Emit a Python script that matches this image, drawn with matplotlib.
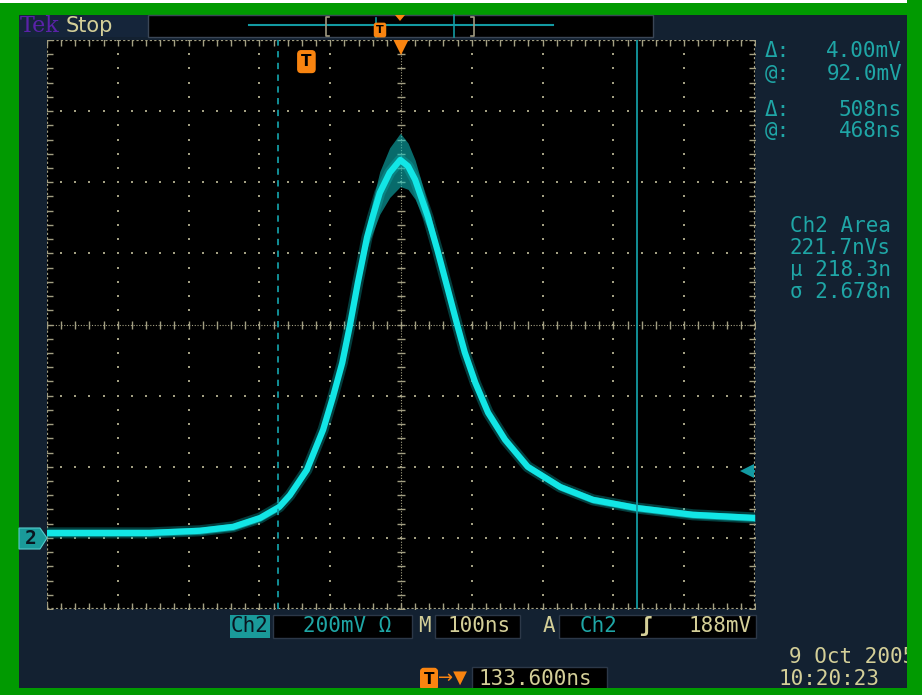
import numpy as np
import matplotlib.pyplot as plt
from matplotlib.patches import Rectangle, Polygon
import matplotlib.transforms as mtrans

# Ch2 trace: time from left edge (ns), volts above ch2 ground (mV)
t_ns = [0, 145, 216, 263, 301, 328, 343, 367, 390, 404, 417, 428, 439, 452, 460, 470,
        484, 499, 510, 520, 538, 552, 566, 579, 590, 605, 623, 647, 679, 725, 771, 833, 912, 1000]
v_mV = [14, 14, 20, 31, 56, 87, 120, 191, 304, 397, 492, 599, 717, 845, 903, 970,
        1027, 1063, 1045, 1007, 903, 805, 700, 602, 522, 436, 352, 276, 200, 143, 107, 84, 65, 56]
# half width of the persistence band (mV)
spread_mV = [10, 10, 10, 10, 10, 10, 10, 10, 12, 14, 16, 18, 22, 30, 45, 60,
             70, 75, 65, 55, 35, 22, 16, 14, 12, 10, 10, 10, 10, 10, 10, 10, 10, 10]

cursor_t = [326, 834]
trig_offset = 133.6
trig_level = 188

readout_lbl = ["Δ:", "@:", "Δ:", "@:"]
readout_val = ["4.00mV", "92.0mV", "508ns", "468ns"]
area_lines = ["Ch2 Area", "221.7nVs", "μ 218.3n", "σ 2.678n"]

green = '#019a01'
navy = '#132131'
teal = '#1fa6a6'
cur_c = '#139aa2'
beige = '#d4cf98'
orange = '#f98410'
dot = '#a39f82'
trace = '#12e6e6'
mono = 'DejaVu Sans Mono'

fig = plt.figure(figsize=(9.22, 6.95), dpi=100, facecolor=green)

# background / chrome in pixel coordinates
bg = fig.add_axes([0, 0, 1, 1])
bg.set_xlim(0, 922)
bg.set_ylim(695, 0)
bg.axis('off')
bg.add_patch(Rectangle((0, 0), 922, 3, fc='white', ec='none'))
bg.add_patch(Rectangle((19, 15), 888, 673, fc=navy, ec='none'))
bg.add_patch(Rectangle((19, 15), 129, 22, fc='#15253a', ec='none'))
bg.add_patch(Rectangle((148, 15), 505, 22, fc='black', ec='#3a4656', lw=1))
bg.text(20, 26, "Tek", family='DejaVu Serif', fontsize=16, color='#5a22a8', va='center')
bg.text(66, 26, "Stop", family='DejaVu Sans', fontsize=15, color=beige, va='center')

# record view in the top bar
bg.plot([249, 553], [25, 25], color=cur_c, lw=1.5)
bg.plot([329, 326, 326, 329], [17, 17, 36, 36], color='#a09a80', lw=1.2)
bg.plot([471, 474, 474, 471], [17, 17, 36, 36], color='#a09a80', lw=1.2)
bg.plot([376, 376], [18, 37], color=cur_c, lw=1.2)
bg.plot([454, 454], [15, 37], color=cur_c, lw=1.2)
bg.text(380, 30, "T", fontsize=8, weight='bold', ha='center', va='center', color='black',
        bbox=dict(boxstyle='round,pad=0.15', fc=orange, ec=orange))
bg.add_patch(Polygon([(395, 15), (405, 15), (400, 21)], fc=orange, ec='none'))

# ch2 ground marker
bg.add_patch(Polygon([(19, 528), (40, 528), (47, 538), (40, 549), (19, 549)], fc='#1a9a9a', ec='#5cc', lw=0.8))
bg.text(31, 539, "2", fontsize=14, weight='bold', color='#0a1520', ha='center', va='center', family=mono)

# right readouts
for i, (l, v) in enumerate(zip(readout_lbl, readout_val)):
    y = [51, 74, 110, 131][i]
    bg.text(765, y, l, family=mono, fontsize=15, color=teal, va='center')
    bg.text(902, y, v, family=mono, fontsize=15, color=teal, va='center', ha='right')
for i, s in enumerate(area_lines):
    bg.text(840, 226 + 22 * i, s, family=mono, fontsize=15, color=teal, va='center', ha='center')

# bottom readouts
bg.add_patch(Rectangle((230, 615), 40, 23, fc='#1a9a9a', ec='none'))
bg.text(250, 626, "Ch2", family=mono, fontsize=15, color='#0a1520', ha='center', va='center')
bg.add_patch(Rectangle((273, 615), 139, 23, fc='black', ec='#2c3848'))
bg.text(347, 626, "200mV Ω", family=mono, fontsize=15, color=teal, ha='center', va='center')
bg.text(424, 626, "M", family=mono, fontsize=15, color=beige, ha='center', va='center')
bg.add_patch(Rectangle((435, 615), 85, 23, fc='black', ec='#2c3848'))
bg.text(479, 626, "100ns", family=mono, fontsize=15, color=beige, ha='center', va='center')
bg.text(549, 626, "A", family=mono, fontsize=15, color=beige, ha='center', va='center')
bg.add_patch(Rectangle((559, 615), 197, 23, fc='black', ec='#2c3848'))
bg.text(599, 626, "Ch2", family=mono, fontsize=15, color=teal, ha='center', va='center')
bg.text(645, 626, "ʃ", family=mono, fontsize=15, color=beige, ha='center', va='center', weight='bold')
bg.text(752, 626, f"{trig_level}mV", family=mono, fontsize=15, color=beige, ha='right', va='center')

bg.text(429, 679, "T", fontsize=11, weight='bold', ha='center', va='center', color='black',
        bbox=dict(boxstyle='round,pad=0.2', fc=orange, ec=orange))
bg.text(452, 678, "→▼", fontsize=13, color=orange, ha='center', va='center')
bg.add_patch(Rectangle((472, 667), 135, 22, fc='black', ec='#2c3848'))
bg.text(478, 679, f"{trig_offset:.3f}ns", family=mono, fontsize=15, color=beige, va='center')

bg.text(789, 657, "9 Oct 2005", family=mono, fontsize=15, color=beige, va='center')
bg.text(778, 679, "10:20:23", family=mono, fontsize=15, color=beige, va='center')
bg.add_patch(Rectangle((907, 0), 15, 695, fc=green, ec='none', zorder=10))
bg.add_patch(Rectangle((0, 688), 922, 7, fc=green, ec='none', zorder=10))

# graticule
ax = fig.add_axes([47 / 922, (695 - 609) / 695, 708 / 922, 569 / 695], facecolor='black')
ax.set_xlim(0, 1000)
ax.set_ylim(-200, 1400)
ax.set_xticks([])
ax.set_yticks([])
for s in ax.spines.values():
    s.set_visible(False)

minor_x = np.arange(0, 1001, 20)
minor_y = np.arange(-200, 1401, 40)
for x in range(100, 1000, 100):
    if x != 500:
        ax.plot(np.full(len(minor_y), x), minor_y, ls='none', marker='s', ms=1.5, mew=0, color=dot)
for y in range(0, 1400, 200):
    if y != 600:
        ax.plot(minor_x, np.full(len(minor_x), y), ls='none', marker='s', ms=1.5, mew=0, color=dot)
ax.axvline(500, color=dot, lw=0.8, ls=(0, (1, 1.5)))
ax.axhline(600, color=dot, lw=0.8, ls=(0, (1, 1.5)))
ax.plot(np.full(len(minor_y), 500), minor_y, ls='none', marker='_', ms=6, mew=1, color=dot)
ax.plot(minor_x, np.full(len(minor_x), 600), ls='none', marker='|', ms=6, mew=1, color=dot)
# frame with ticks
ax.plot([0, 1000, 1000, 0, 0], [-200, -200, 1400, 1400, -200], color=dot, lw=1.6, ls=(0, (1, 1)))
ax.plot(minor_x, np.full(len(minor_x), -200), ls='none', marker='|', ms=9, mew=1, color=dot)
ax.plot(minor_x, np.full(len(minor_x), 1400), ls='none', marker='|', ms=9, mew=1, color=dot)
ax.plot(np.full(len(minor_y), 0), minor_y, ls='none', marker='_', ms=9, mew=1, color=dot)
ax.plot(np.full(len(minor_y), 1000), minor_y, ls='none', marker='_', ms=9, mew=1, color=dot)

# trace
t = np.array(t_ns)
v = np.array(v_mV)
sp = np.array(spread_mV)
ax.fill_between(t, v - sp, v + sp, color='#10c4c4', alpha=0.55, lw=0, zorder=3)
ax.plot(t, v, color='#0bb0b0', lw=8, alpha=0.35, solid_joinstyle='round', zorder=3)
ax.plot(t, v, color=trace, lw=4.5, solid_joinstyle='round', zorder=4)

# cursors
ax.axvline(cursor_t[0], color=cur_c, lw=1.3, ls=(0, (3.5, 3)), zorder=5)
ax.axvline(cursor_t[1], color=cur_c, lw=1.3, zorder=5)

# trigger markers
blend = mtrans.blended_transform_factory(ax.transData, ax.transAxes)
trig_t = 500 - trig_offset
ax.text(trig_t, 0.962, "T", transform=blend, fontsize=11, weight='bold', ha='center', va='center',
        color='black', bbox=dict(boxstyle='round,pad=0.22', fc=orange, ec=orange), zorder=6)
ax.plot(500, 0.988, marker='v', ms=11, color=orange, mew=0, transform=blend, zorder=6)
ax.plot(988, trig_level, marker='<', ms=10, mew=0, color=cur_c, zorder=6)
ax.plot([988, 1000], [trig_level, trig_level], color=cur_c, lw=1.5, zorder=6)

fig.savefig('out.png', dpi=100, facecolor=green)
